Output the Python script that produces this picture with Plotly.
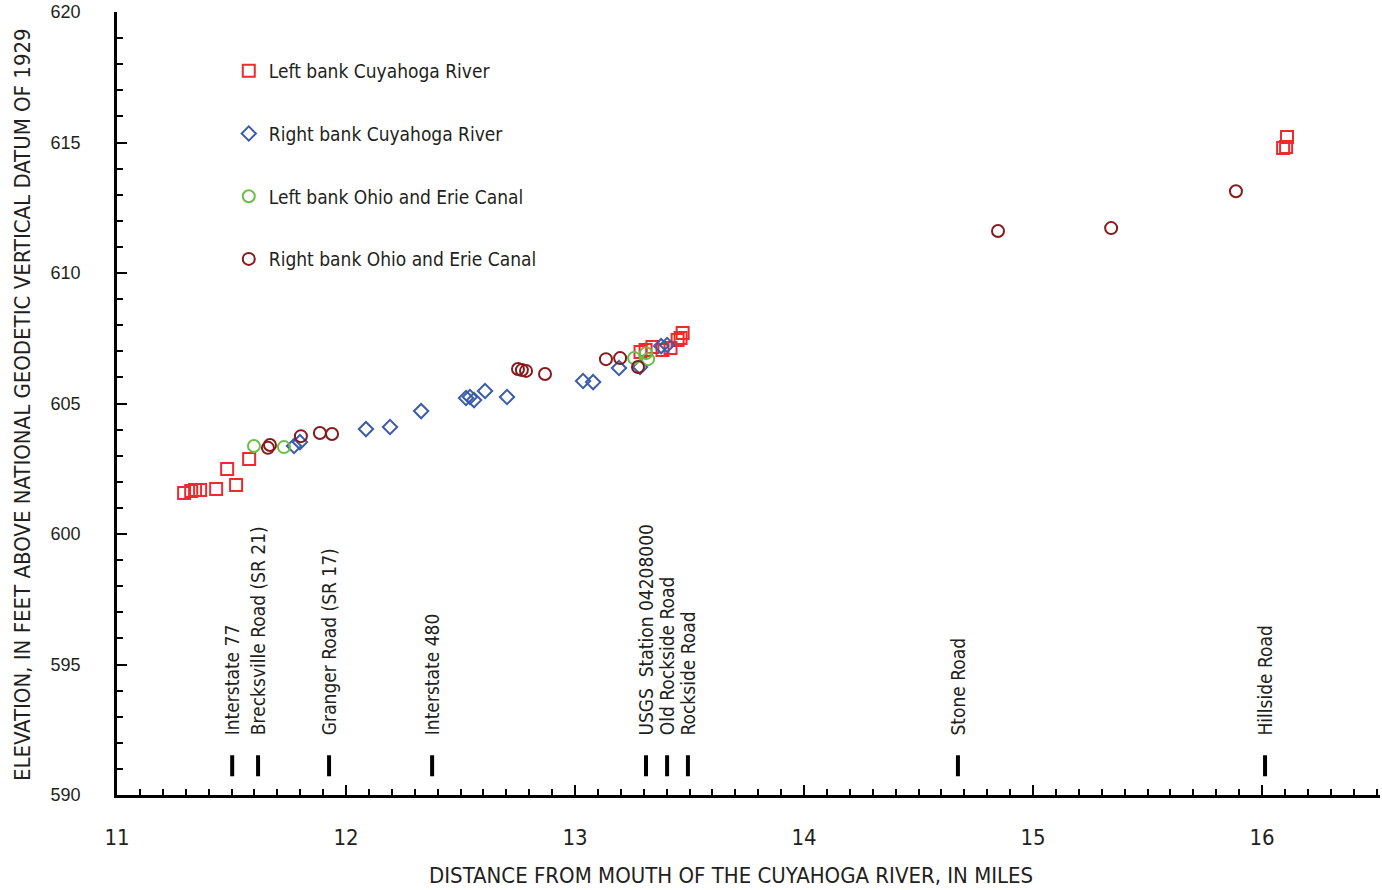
import plotly.graph_objects as go

# ---------------- data ----------------
lb_river_mi = [11.293, 11.324, 11.341, 11.363, 11.433, 11.481, 11.520, 11.577,
               13.286, 13.308, 13.338, 13.382, 13.417, 13.448, 13.461, 13.470,
               16.092, 16.105, 16.109]
lb_river_el = [601.57, 601.65, 601.69, 601.69, 601.72, 602.49, 601.88, 602.87,
               606.97, 607.05, 607.16, 607.05, 607.13, 607.43, 607.51, 607.70,
               614.79, 614.83, 615.21]

rb_river_mi = [11.773, 11.799, 12.087, 12.192, 12.328, 12.524, 12.541, 12.559,
               12.607, 12.703, 13.035, 13.079, 13.192, 13.284, 13.376, 13.402]
rb_river_el = [603.37, 603.52, 604.02, 604.10, 604.71, 605.21, 605.25, 605.13,
               605.48, 605.25, 605.86, 605.82, 606.36, 606.40, 607.20, 607.24]

lb_canal_mi = [11.598, 11.729, 13.258, 13.310, 13.319]
lb_canal_el = [603.37, 603.33, 606.74, 606.93, 606.70]

rb_canal_mi = [11.659, 11.668, 11.803, 11.886, 11.939, 12.751, 12.768, 12.786,
               12.869, 13.135, 13.197, 13.275, 14.847, 15.341, 15.886]
rb_canal_el = [603.30, 603.41, 603.75, 603.87, 603.83, 606.32, 606.28, 606.25,
               606.13, 606.70, 606.74, 606.40, 611.61, 611.72, 613.13]

landmark_mi = [11.503, 11.616, 11.926, 12.376, 13.310, 13.402, 13.493, 14.672, 16.013]
landmark_names = ["Interstate 77", "Brecksville Road (SR 21)", "Granger Road (SR 17)",
                  "Interstate 480", "USGS\u00a0 Station 04208000", "Old Rockside Road",
                  "Rockside Road", "Stone Road", "Hillside Road"]

x_ticks = [11, 12, 13, 14, 15, 16]
y_ticks = [590, 595, 600, 605, 610, 615, 620]

# ---------------- styles ----------------
NARROW = "DejaVu Sans Condensed, Liberation Sans Narrow, sans-serif"
REG = "Liberation Sans, Arial, sans-serif"
TXT = "#231f20"
BAR_Y = 591.12
LABEL_Y = 592.2

fig = go.Figure()

series = [
    ("Left bank Cuyahoga River", lb_river_mi, lb_river_el, "square-open", "#ee2a2f", 12),
    ("Right bank Cuyahoga River", rb_river_mi, rb_river_el, "diamond-open", "#3b5bab", 11),
    ("Left bank Ohio and Erie Canal", lb_canal_mi, lb_canal_el, "circle-open", "#6dbe45", 12),
    ("Right bank Ohio and Erie Canal", rb_canal_mi, rb_canal_el, "circle-open", "#861a1c", 12),
]
for i, (name, xs, ys, sym, col, sz) in enumerate(series):
    fig.add_trace(go.Scatter(
        x=xs, y=ys, mode="markers", name=name, legendgroup=f"g{i}",
        marker=dict(symbol=sym, size=sz, color=col, line=dict(color=col, width=2)),
    ))

# landmark tick bars
fig.add_trace(go.Scatter(
    x=landmark_mi, y=[BAR_Y] * len(landmark_mi), mode="markers", showlegend=False,
    marker=dict(symbol="line-ns", size=15, line=dict(color="black", width=4)),
    hoverinfo="skip",
))

annotations = []
for m, nm in zip(landmark_mi, landmark_names):
    annotations.append(dict(
        x=m, y=LABEL_Y, xref="x", yref="y", text=nm, showarrow=False,
        textangle=-90, xanchor="center", yanchor="bottom",
        font=dict(family=NARROW, size=19, color=TXT),
    ))

# axis titles
annotations.append(dict(
    x=-0.0752, y=0.498, xref="paper", yref="paper", showarrow=False,
    text="ELEVATION, IN FEET ABOVE NATIONAL GEODETIC VERTICAL DATUM OF 1929",
    textangle=-90, xanchor="center", yanchor="middle",
    font=dict(family=NARROW, size=22, color=TXT),
))
annotations.append(dict(
    x=0.486, y=-0.1034, xref="paper", yref="paper", showarrow=False,
    text="DISTANCE FROM MOUTH OF THE CUYAHOGA RIVER, IN MILES",
    xanchor="center", yanchor="middle",
    font=dict(family=NARROW, size=22, color=TXT),
))

fig.update_layout(
    width=1382, height=890,
    margin=dict(l=117, r=2, t=12, b=95),
    paper_bgcolor="white", plot_bgcolor="white",
    showlegend=True,
    legend=dict(
        x=0.0885, y=0.949, xanchor="left", yanchor="top",
        bgcolor="rgba(0,0,0,0)", font=dict(family=NARROW, size=19, color=TXT),
        tracegroupgap=35, traceorder="grouped",
    ),
    annotations=annotations,
)

fig.update_xaxes(
    range=[11, 16.515], tickvals=x_ticks, ticktext=[str(v) for v in x_ticks],
    showline=True, linecolor="black", linewidth=2.5, mirror=False,
    ticks="inside", ticklen=10, tickwidth=2, tickcolor="black",
    minor=dict(ticks="inside", dtick=0.1, tick0=11, ticklen=6, tickwidth=1.5, tickcolor="black"),
    showgrid=False, zeroline=False, ticklabelstandoff=21,
    tickfont=dict(family=NARROW, size=22, color=TXT),
)
fig.update_yaxes(
    range=[590, 620], tickvals=y_ticks, ticktext=[str(v) for v in y_ticks],
    showline=True, linecolor="black", linewidth=2.5, mirror=False,
    ticks="inside", ticklen=10, tickwidth=2, tickcolor="black",
    minor=dict(ticks="inside", dtick=1, tick0=590, ticklen=6, tickwidth=1.5, tickcolor="black"),
    showgrid=False, zeroline=False, ticklabelstandoff=30,
    tickfont=dict(family=REG, size=18, color=TXT),
)

fig.write_html("out.html")
